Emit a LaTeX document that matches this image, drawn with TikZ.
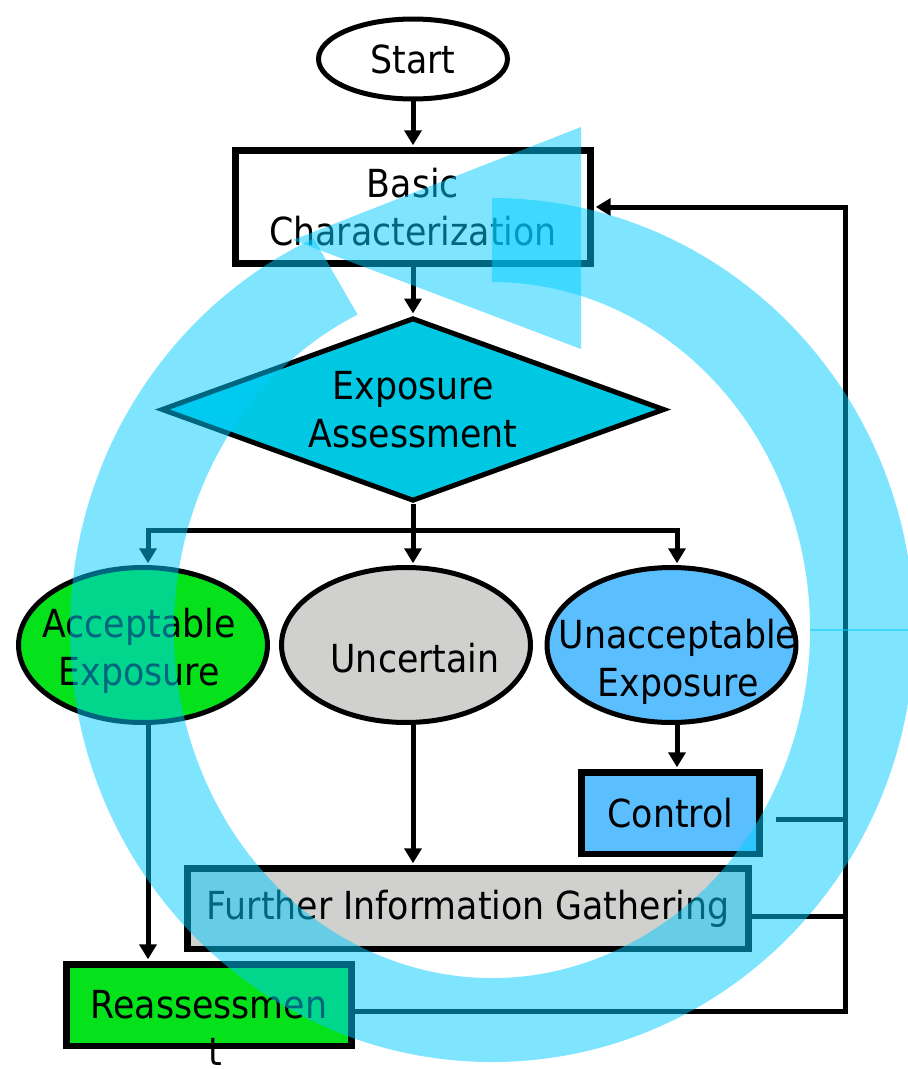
\documentclass[tikz,border=0pt]{standalone}
\usepackage{fontspec}
\newfontfamily\flowfont{DejaVu Sans Condensed}
\usetikzlibrary{shapes.geometric}
\usetikzlibrary{arrows.meta}
\definecolor{accgreen}{RGB}{5,226,27}
\definecolor{uncgray}{RGB}{208,208,206}
\definecolor{unablue}{RGB}{91,191,255}
\definecolor{assesscyan}{RGB}{0,200,226}
\definecolor{ringcyan}{RGB}{0,204,255}
\tikzset{%
  myedge/.style={->, shorten >=1pt, >={Triangle[length=0.3cm, width=0.34cm]}, line width=0.1cm},
  myline/.style={line width=0.1cm},
  mybox/.style={rectangle, draw=black, line width=0.13cm, inner sep=0pt},
  myell/.style={ellipse, draw=black, line width=0.1cm, inner sep=0pt},
  mytext/.style={align=center, inner sep=0pt},
  ringfill/.style={fill=ringcyan, fill opacity=0.5}
}

\begin{document}
\begin{tikzpicture}[x=0.02cm, y=-0.02cm,
  every node/.style={font={\flowfont\fontsize{22pt}{27.3pt}\selectfont}}]
  \useasboundingbox (0,0) rectangle (908,1069);

  % flow chart
  \node[myell, minimum width=3.78cm, minimum height=1.6cm] (start) at (413,59) {Start};
  \node[mybox, minimum width=7.11cm, minimum height=2.27cm, align=center] (basic) at (413,207) {Basic\\Characterization};
  \node[diamond, draw=black, line width=0.1cm, fill=assesscyan, inner sep=0pt, aspect=2.7,
        minimum width=10.07cm, minimum height=3.67cm, align=center] (assess) at (413,409.5) {Exposure\\Assessment};
  \node[myell, fill=accgreen, minimum width=4.98cm, minimum height=3.1cm,
        label={[mytext, xshift=-0.08cm, yshift=-0.11cm]center:Acceptable\\Exposure}] (accept) at (143,645) {};
  \node[myell, fill=uncgray, minimum width=4.98cm, minimum height=3.1cm,
        label={[mytext, xshift=0.18cm, yshift=-0.27cm]center:Uncertain}] (uncert) at (406,645) {};
  \node[myell, fill=unablue, minimum width=4.98cm, minimum height=3.1cm,
        label={[mytext, xshift=0.13cm, yshift=-0.33cm]center:Unacceptable\\Exposure}] (unacc) at (671.5,645) {};
  \node[mybox, fill=unablue, minimum width=3.57cm, minimum height=1.63cm] (control) at (670.5,813) {Control};
  \node[mybox, fill=uncgray, minimum width=11.23cm, minimum height=1.61cm] (further) at (468,908.5) {Further Information Gathering};
  \node[mybox, fill=accgreen, minimum width=5.71cm, minimum height=1.63cm,
        label={[mytext, xshift=0.12cm, yshift=0.22cm]below:t}] (reass) at (209,1005) {Reassessmen};

  \coordinate (split) at (413,530);
  \coordinate (brL) at (148,530);
  \coordinate (brR) at (677,530);
  \coordinate (fbTop) at (845,207);
  \coordinate (fbBot) at (845,1011);
  \coordinate (fbFur) at (845,916);
  \coordinate (fbCtl) at (845,819);

  \draw[myedge] (start) -- (basic);
  \draw[myedge] (basic) -- (assess);
  \draw[myedge] (assess.south) -- (uncert.north -| split);
  \draw[myedge] (split) -| (accept.north -| brL);
  \draw[myedge] (split) -| (unacc.north -| brR);
  \draw[myedge] (accept.south -| brL) -- (reass.north -| brL);
  \draw[myedge] (uncert.south -| split) -- (further.north -| split);
  \draw[myedge] (unacc.south -| brR) -- (control.north -| brR);
  \draw[myline] ([xshift=0.26cm]control.east |- fbCtl) -- (fbCtl);
  \draw[myline] (further.east |- fbFur) -- (fbFur);
  \draw[myedge] (reass.east |- fbBot) -- (fbBot) -- (fbTop) -- (basic.east);

  % circular arrow on top
  \fill[ringfill] (492,198) arc[start angle=-90, end angle=245, x radius=422, y radius=432]
    -- (357.6,314.6) arc[start angle=245, end angle=-90, x radius=318, y radius=348] -- cycle;
  \fill[ringfill] (581,127) -- (581,349) -- (293,240) -- cycle;
  \draw[ringcyan, opacity=0.5, line width=0.04cm] (810,630) -- (912,630);
\end{tikzpicture}
\end{document}
